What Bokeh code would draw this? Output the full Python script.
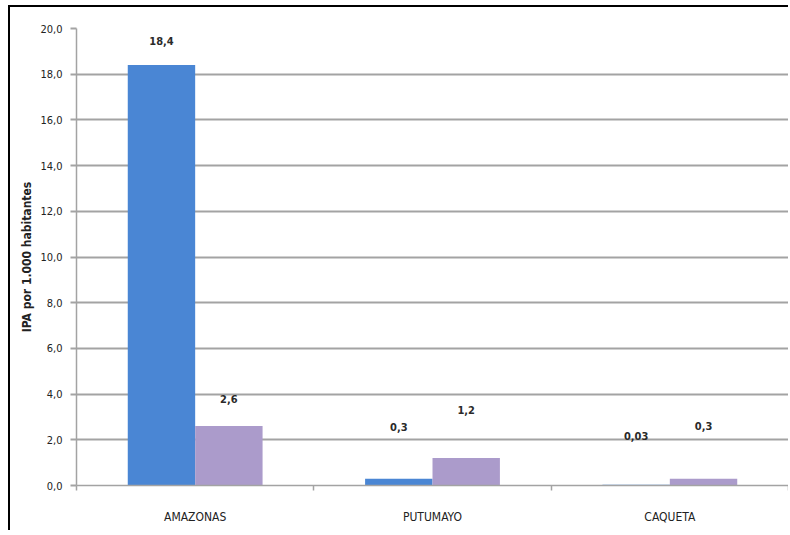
from bokeh.plotting import figure
from bokeh.models import (Range1d, FixedTicker, SingleIntervalTicker, CustomJSTickFormatter,
                          ColumnDataSource)
from bokeh.transform import dodge
from bokeh.core.properties import value
from bokeh.embed import file_html
from bokeh.resources import INLINE

# ---- data ----
categories = ["AMAZONAS", "PUTUMAYO", "CAQUETA"]
series_a = [18.4, 0.3, 0.03]   # blue
series_b = [2.6, 1.2, 0.3]     # purple
y_title = "IPA por 1.000 habitantes"

# ---- style ----
FONT = "'DejaVu Sans Condensed', 'Liberation Sans', sans-serif"
BLUE = "#4a86d4"
PURPLE = "#ab9bcb"
GRID = "#a3a3a3"
label_off_a = [24, 52, 49]
label_off_b = [27, 48, 53]
bar_w = 0.284


def fmt(v):
    return f"{v:g}".replace(".", ",")


n = len(categories)
centers = [i + 0.5 for i in range(n)]          # category slot centers on the axis
src = ColumnDataSource(dict(
    x=centers, a=series_a, b=series_b,
    la=[fmt(v) for v in series_a], lb=[fmt(v) for v in series_b],
    oa=[-o for o in label_off_a], ob=[-o for o in label_off_b],
))

p = figure(width=780, height=525, x_range=Range1d(0, n), y_range=Range1d(0, 20),
           output_backend="svg", toolbar_location=None,
           min_border_left=66, min_border_right=2, min_border_top=21, min_border_bottom=47)
p.margin = (5, 0, 0, 8)
p.outline_line_color = None
p.styles = {"border-top": "2px solid black", "border-left": "2px solid black"}

p.vbar(x=dodge("x", -bar_w / 2), top="a", width=bar_w, source=src,
       fill_color=BLUE, line_color=None)
p.vbar(x=dodge("x", bar_w / 2), top="b", width=bar_w, source=src,
       fill_color=PURPLE, line_color=None)

p.text(x=dodge("x", -bar_w / 2), y="a", text="la", y_offset="oa", source=src,
       text_align="center", text_baseline="middle", text_font=value(FONT),
       text_font_size="11px", text_font_style="bold", text_color="#2a2a2a")
p.text(x=dodge("x", bar_w / 2), y="b", text="lb", y_offset="ob", source=src,
       text_align="center", text_baseline="middle", text_font=value(FONT),
       text_font_size="11px", text_font_style="bold", text_color="#2a2a2a")

# y axis
ya = p.yaxis[0]
ya.ticker = SingleIntervalTicker(interval=2)
ya.formatter = CustomJSTickFormatter(code="return tick.toFixed(1).replace('.', ',');")
ya.axis_line_color = GRID
ya.axis_line_width = 1.5
ya.major_tick_line_color = GRID
ya.major_tick_line_width = 2
ya.major_tick_in = 0
ya.major_tick_out = 6
ya.minor_tick_line_color = None
ya.major_label_text_font = FONT
ya.major_label_text_font_size = "11px"
ya.major_label_text_color = "#222222"
ya.major_label_standoff = 8
ya.axis_label = y_title
ya.axis_label_text_font = FONT
ya.axis_label_text_font_size = "12px"
ya.axis_label_text_font_style = "bold"
ya.axis_label_text_color = "#222222"
ya.axis_label_standoff = 3

p.ygrid.grid_line_color = GRID
p.ygrid.grid_line_width = 2
p.xgrid.grid_line_color = None

# x axis: labels at slot centres, small ticks at slot boundaries
xa = p.xaxis[0]
xa.ticker = FixedTicker(ticks=centers, minor_ticks=list(range(n + 1)))
xa.major_label_overrides = {c: name for c, name in zip(centers, categories)}
xa.axis_line_color = GRID
xa.axis_line_width = 1.5
xa.major_tick_line_color = None
xa.major_tick_in = 0
xa.major_tick_out = 0
xa.minor_tick_line_color = GRID
xa.minor_tick_line_width = 1.5
xa.minor_tick_in = 0
xa.minor_tick_out = 5
xa.major_label_text_font = FONT
xa.major_label_text_font_size = "12px"
xa.major_label_text_color = "#222222"
xa.major_label_standoff = 19

open("out.html", "w").write(file_html(p, INLINE))
